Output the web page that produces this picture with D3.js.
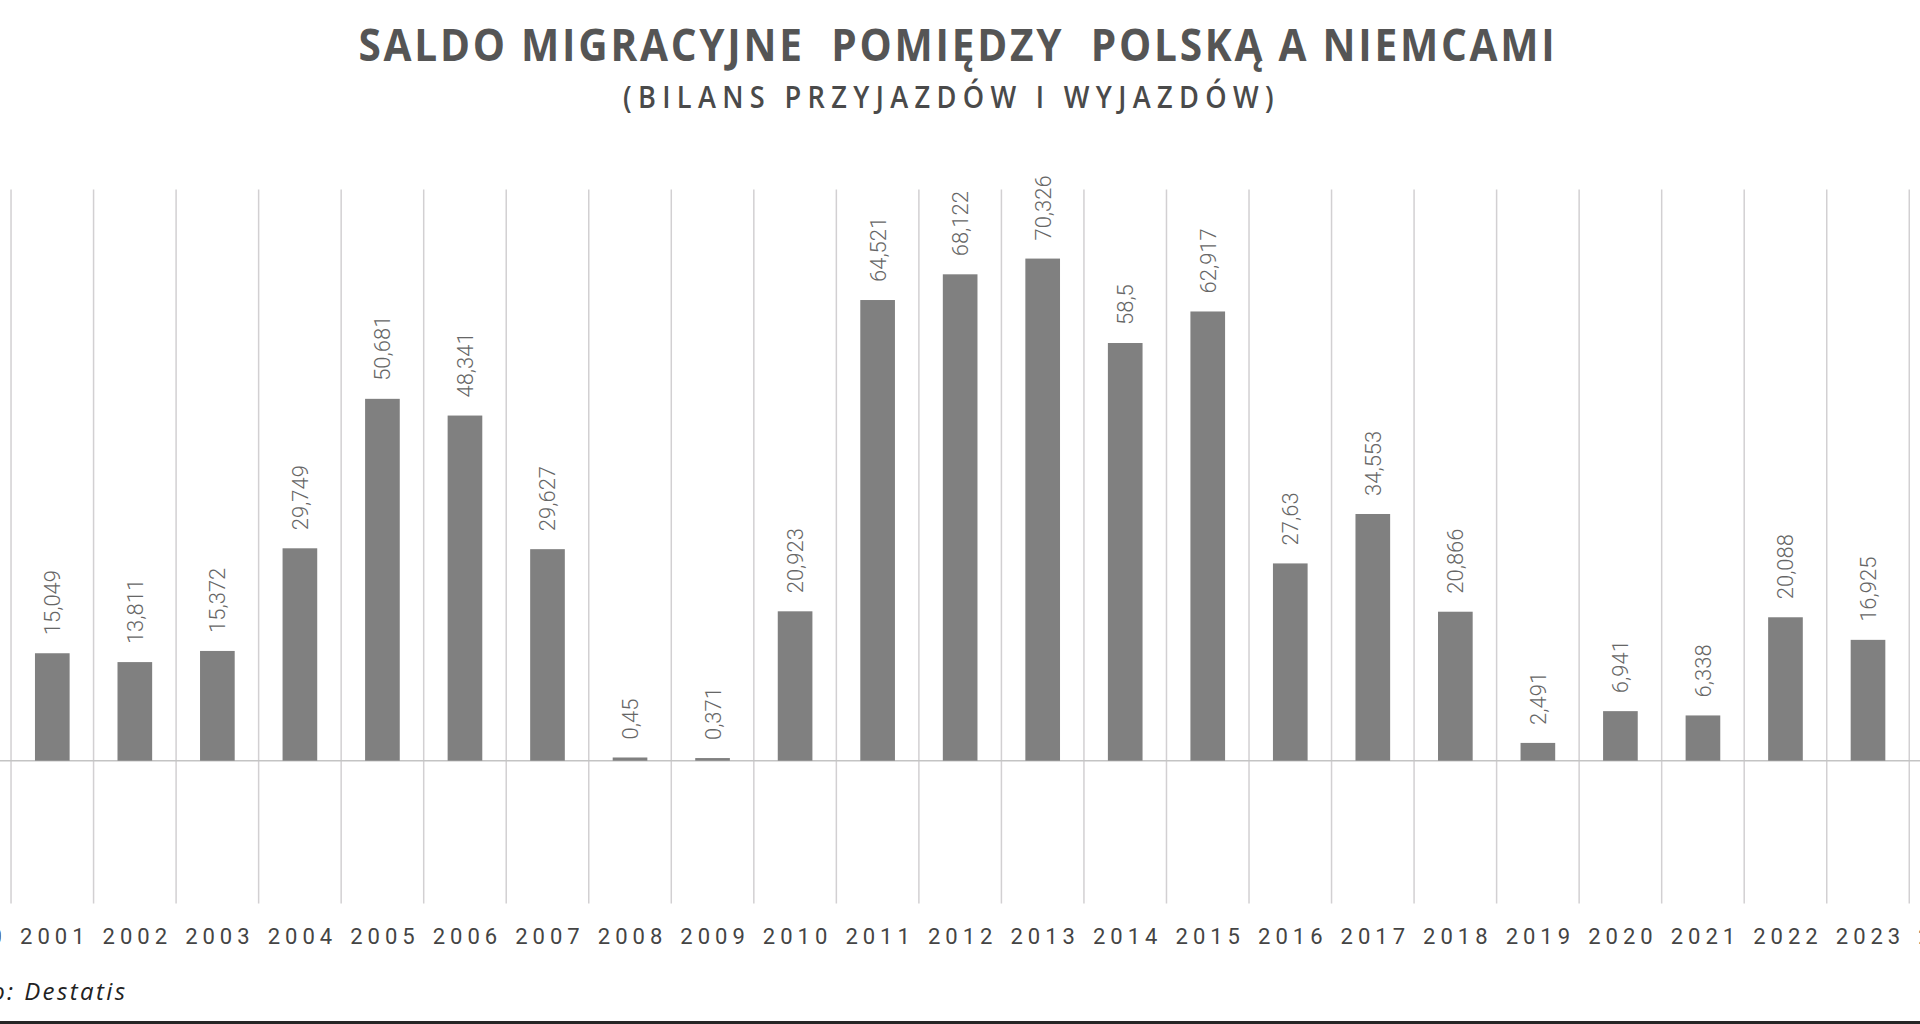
<!DOCTYPE html>
<html>
<head>
<meta charset="utf-8">
<script src="https://cdn.jsdelivr.net/npm/d3@7"></script>
<style>
  html, body { margin: 0; padding: 0; background: #ffffff; }
  svg { display: block; }
</style>
</head>
<body>
<svg id="chart" width="1920" height="1024"></svg>
<script>
// years shown on the x axis (2000 and 2024 are cut by the picture edge)
const years = ['2000', '2001', '2002', '2003', '2004', '2005', '2006', '2007', '2008', '2009', '2010',
  '2011', '2012', '2013', '2014', '2015', '2016', '2017', '2018', '2019', '2020', '2021', '2022', '2023', '2024']

// migration balance, thousands of people (null = bar not visible)
const balance = [null, 15.049, 13.811, 15.372, 29.749, 50.681, 48.341, 29.627, 0.45, 0.371, 20.923,
  64.521, 68.122, 70.326, 58.5, 62.917, 27.63, 34.553, 20.866, 2.491, 6.941, 6.338, 20.088, 16.925, null]

const yDomain = [-20, 80]

const title = 'SALDO MIGRACYJNE  POMIĘDZY  POLSKĄ A NIEMCAMI'
const subtitle = '(BILANS PRZYJAZDÓW I WYJAZDÓW)'
const source = 'Źródło: Destatis'

const barColor = '#808080'
const gridColor = '#d2d0d2'

const svg = d3.select('#chart')
const width = +svg.attr('width')
const height = +svg.attr('height')

const data = years.map((y, i) => ({ year: y, value: balance[i] }))

// band scale: the visible gridlines are the band edges
const xScale = d3.scaleBand()
  .domain(years)
  .range([-71.5, 1991.8])
  .paddingInner(0)
  .paddingOuter(0)

const yScale = d3.scaleLinear()
  .domain(yDomain)
  .range([903.5, 189.5])

const barWidth = xScale.bandwidth() * 0.42

// vertical gridlines between the years
const gridX = years.slice(1).map(y => xScale(y))
svg.append('g')
  .selectAll('line')
  .data(gridX)
  .enter()
  .append('line')
  .attr('x1', d => d)
  .attr('x2', d => d)
  .attr('y1', yScale(yDomain[1]))
  .attr('y2', yScale(yDomain[0]))
  .style('stroke', gridColor)
  .style('stroke-width', 1.5)

// zero line
svg.append('line')
  .attr('x1', 0)
  .attr('x2', width)
  .attr('y1', yScale(0))
  .attr('y2', yScale(0))
  .style('stroke', '#c4c4c4')
  .style('stroke-width', 1.5)

const shown = data.filter(d => d.value !== null)

// bars
svg.append('g')
  .selectAll('rect')
  .data(shown)
  .enter()
  .append('rect')
  .attr('x', d => xScale(d.year) + (xScale.bandwidth() - barWidth) / 2)
  .attr('y', d => yScale(d.value))
  .attr('width', barWidth)
  .attr('height', d => yScale(0) - yScale(d.value))
  .style('fill', barColor)

// rotated value labels, decimal comma
svg.append('g')
  .selectAll('text')
  .data(shown)
  .enter()
  .append('text')
  .attr('transform', d => `translate(${xScale(d.year) + xScale.bandwidth() / 2 + 8}, ${yScale(d.value) - 18}) rotate(-90)`)
  .style('font-family', 'Roboto, sans-serif')
  .style('font-size', '22px')
  .style('font-weight', 300)
  .style('fill', '#666666')
  .text(d => String(d.value).replace('.', ','))

// x axis labels
const xAxis = d3.axisBottom(xScale).tickSize(0).tickPadding(0)
const xTicks = svg.append('g')
  .attr('transform', 'translate(0, 944)')
  .call(xAxis)
xTicks.select('path.domain').remove()
xTicks.selectAll('.tick text')
  .attr('y', 0)
  .attr('dy', 0)
  .attr('dx', '2.5')
  .style('font-family', 'Roboto, "Liberation Sans", sans-serif')
  .style('font-size', '22px')
  .style('letter-spacing', '5px')
  .style('fill', '#444444')

// title and subtitle (letter-spaced)
svg.append('text')
  .attr('x', 958)
  .attr('y', 61)
  .attr('textLength', 1199)
  .attr('lengthAdjust', 'spacingAndGlyphs')
  .style('text-anchor', 'middle')
  .style('white-space', 'pre')
  .style('font-family', '"Open Sans", Roboto, sans-serif')
  .style('font-size', '44px')
  .style('font-weight', 700)
  .style('letter-spacing', '3px')
  .style('fill', '#555555')
  .text(title)

svg.append('text')
  .attr('x', 951.5)
  .attr('y', 108)
  .attr('textLength', 657)
  .attr('lengthAdjust', 'spacingAndGlyphs')
  .style('text-anchor', 'middle')
  .style('white-space', 'pre')
  .style('font-family', '"Open Sans", Roboto, sans-serif')
  .style('font-size', '30px')
  .style('font-weight', 600)
  .style('letter-spacing', '7px')
  .style('fill', '#4a4a4a')
  .text(subtitle)

// source
svg.append('text')
  .attr('x', 127.5)
  .attr('y', 1000)
  .style('text-anchor', 'end')
  .style('font-family', '"Open Sans", Roboto, sans-serif')
  .style('font-size', '24px')
  .style('font-style', 'italic')
  .style('letter-spacing', '2.4px')
  .style('fill', '#222222')
  .text(source)

// dark rule at the bottom
svg.append('rect')
  .attr('x', 0)
  .attr('y', 1021)
  .attr('width', width)
  .attr('height', height - 1021)
  .style('fill', '#262626')
</script>
</body>
</html>
